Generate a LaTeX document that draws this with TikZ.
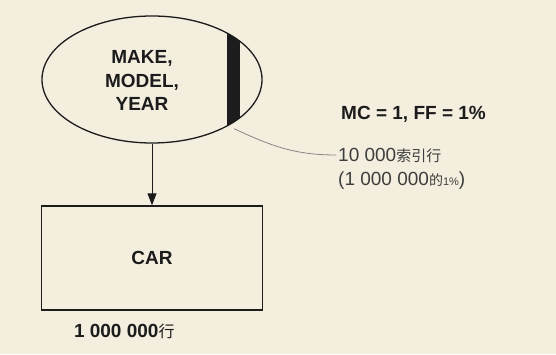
\documentclass[tikz,border=0pt]{standalone}
\usepackage{fontspec}
\setmainfont{Liberation Sans}
\newfontfamily\cjk{Noto Sans CJK SC}
\usepackage{tikz}
\usetikzlibrary{
  shapes.geometric,
  arrows.meta,
  positioning,
  calc
}
\definecolor{paperbg}{RGB}{243, 238, 222}
\definecolor{inkblack}{RGB}{28, 28, 28}
\definecolor{notegray}{RGB}{62, 62, 62}
\definecolor{leadgray}{RGB}{135, 135, 135}
\tikzset{
  keyshape/.style = {
    ellipse, draw=inkblack, line width=1.3pt,
    minimum width=220pt, minimum height=127pt, inner sep=0pt
  },
  keytext/.style = {
    align=center, text=inkblack, inner sep=0pt,
    font=\fontsize{19}{23.5}\selectfont\bfseries
  },
  tablebox/.style = {
    rectangle, draw=inkblack, line width=1.4pt,
    minimum width=221pt, minimum height=104pt,
    text=inkblack, font=\fontsize{19}{23}\selectfont\bfseries
  },
  rowcount/.style = {
    inner sep=0pt, text=inkblack,
    font=\fontsize{19}{23}\selectfont\bfseries
  },
  stats/.style = {
    inner sep=0pt, text=inkblack,
    font=\fontsize{19}{22}\selectfont\bfseries
  },
  note/.style = {
    inner sep=0pt, text=notegray,
    font=\fontsize{19}{23}\selectfont
  },
  arr/.style  = {-{Triangle[length=12pt, width=9pt]}, draw=inkblack, line width=0.9pt},
  lead/.style = {draw=leadgray, line width=0.8pt},
}

\begin{document}
\begin{tikzpicture}[x=1pt, y=1pt]

  \fill[paperbg] (0,0) rectangle (556,354);
  \useasboundingbox (0,0) rectangle (556,354);

  % index and table
  \node[keyshape] (key) at (152,274.5) {};
  \begin{scope}
    \clip (key.center) ellipse [x radius=110pt, y radius=63.5pt];
    \fill[inkblack] ([xshift=75pt]key.south) rectangle ([xshift=88pt]key.north);
  \end{scope}
  \node[keytext] (keylbl) at ([xshift=-10pt, yshift=-1pt]key.center)
    {MAKE,\\MODEL,\\YEAR};
  \coordinate (barfoot) at ([xshift=82pt, yshift=15pt]key.south);

  \node[tablebox] (car) at (152,96) {CAR};

  \node[rowcount, anchor=base west] (carrows)
    at ($(car.south west)+(33pt,-27pt)$)
    {1 000 000{\cjk\mdseries\fontsize{16}{20}\selectfont 行}};

  % filter notes
  \node[stats, anchor=base west] (mcff) at (341,235) {MC = 1, FF = 1\%};
  \node[note, anchor=base west] (note1) at ($(mcff.base west)+(-3pt,-42pt)$)
    {10 000{\cjk\fontsize{15}{18}\selectfont 索引行}};
  \node[note, anchor=base west] (note2) at ($(note1.base west)+(0pt,-24pt)$)
    {(1 000 000{\cjk\fontsize{14}{18}\selectfont 的}{\fontsize{11}{13}\selectfont 1\%})};

  % Arrows
  \draw[arr] (key.south) -- (car.north);
  \draw[lead] (barfoot) to[out=-25, in=180] ([xshift=-2pt]note1.west);

\end{tikzpicture}
\end{document}
